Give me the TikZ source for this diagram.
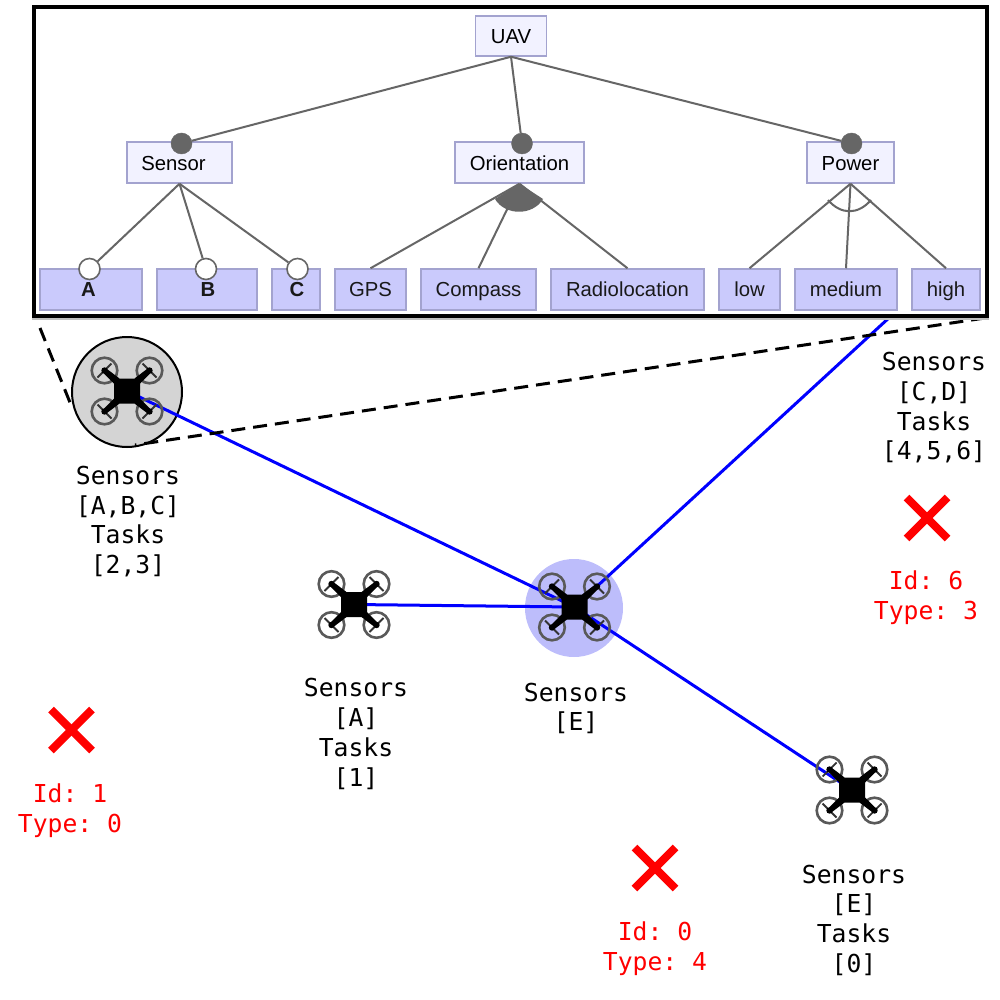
\documentclass[tikz,border=0pt]{standalone}
\usepackage{fontspec}
\setmainfont{Liberation Sans}
\newfontfamily\monofam{DejaVu Sans Mono}
\definecolor{fgrey}{HTML}{666666}
\definecolor{fline}{HTML}{A3A3CF}
\definecolor{fpale}{HTML}{F2F2FF}
\definecolor{fleaf}{HTML}{CACAFC}
\definecolor{halo}{HTML}{BDBDFB}
\tikzset{
  root/.style={draw=fline,line width=1.5pt,fill=fpale,inner sep=0pt,text height=18pt,text depth=2.5pt,font=\fontsize{20.3}{24}\selectfont,text=black},
  leaf/.style={draw=fline,line width=1.5pt,fill=fleaf,inner sep=0pt,minimum height=41pt,text height=17pt,text depth=3pt,font=\fontsize{20.3}{24}\selectfont,text=black!90},
  reqdot/.style={circle,fill=fgrey,draw=fgrey,inner sep=0pt,minimum size=21pt},
  optdot/.style={circle,fill=white,draw=fgrey,line width=1.6pt,inner sep=0pt,minimum size=21pt},
  edge/.style={draw=fgrey,line width=2pt},
  link/.style={draw=blue,line width=3pt},
  guide/.style={draw=black,line width=3pt,dash pattern=on 14pt off 8pt},
  info/.style={font=\monofam\frenchspacing\fontsize{24.7}{29.7}\selectfont,align=center,inner sep=0pt,text=black},
  redinfo/.style={info,text=red},
  cross/.style={draw=red,line width=8pt},
  dronepic/.pic={
    \foreach \sx/\sy in {-1/-1,1/-1,-1/1,1/1}{
      \draw[draw=black!65,line width=2.6pt] (22.5*\sx,20.5*\sy) circle[radius=12.8];
      \fill[black] (13*\sx,7.5*\sy) -- (24.5*\sx,19*\sy) -- (20*\sx,22*\sy) -- (7.5*\sx,12.5*\sy) -- cycle;
      \draw[black!80,line width=1.8pt] (22.5*\sx-7,20.5*\sy+7*\sx*\sy) -- (22.5*\sx+7,20.5*\sy-7*\sx*\sy);
      \fill[black] (22.5*\sx,20.5*\sy) circle[radius=3.2];
    }
    \fill[black,rounded corners=2pt] (-13,-12.5) rectangle (13,12.5);
  }
}
\begin{document}
\begin{tikzpicture}[x=1pt,y=-1pt]
\useasboundingbox (0,0) rectangle (1000,1000);
% swarm halos
\node[circle,draw=black,line width=2pt,fill=black!17,inner sep=0pt,minimum size=110pt] (halo1) at (127,392) {};
\node[circle,fill=halo,inner sep=0pt,minimum size=98pt] (halo2) at (574,608) {};
% anchors
\coordinate (d1) at (127,391);
\coordinate (d2) at (354,604.5);
\coordinate (d3) at (574.5,607);
\coordinate (d4) at (852,790);
\coordinate (fa) at (891,316);
\coordinate (ga) at (40,328);
\coordinate (gb) at (71,405);
\coordinate (gc) at (985,318);
\coordinate (gd) at (135,445);
% links
\draw[link] (d1) -- (d3);
\draw[link] (d2) -- (d3);
\draw[link] (d3) -- (d4);
\draw[link] (d3) -- (fa);
% zoom guides
\draw[guide] (ga) -- (gb);
\draw[guide] (gc) -- (gd);
% drones
\pic at (d1) {dronepic};
\pic at (d2) {dronepic};
\pic at (d3) {dronepic};
\pic at (d4) {dronepic};
% inset
\draw[black!25,line width=4pt,fill=white] (34,8.5) rectangle (987,317.5);
\draw[black,line width=4pt,fill=white] (34,7) rectangle (987,316);
\node[root,minimum width=71pt,minimum height=40pt] (uav) at (511,36) {UAV};
\node[root,minimum width=105pt,minimum height=41pt] (sensor) at (179.5,162.5) {Sensor\kern12pt};
\node[root,minimum width=129pt,minimum height=41pt] (orient) at (519.5,162.5) {Orientation};
\node[root,minimum width=87pt,minimum height=41pt] (power) at (850.5,162.5) {Power};
\node[leaf,minimum width=102pt] (a) at (91,289.5) {\kern-5pt\textbf{A}};
\node[leaf,minimum width=100pt] (b) at (207,289.5) {\kern2pt\textbf{B}};
\node[leaf,minimum width=48pt] (c) at (296,289.5) {\kern2pt\textbf{C}};
\node[leaf,minimum width=71pt] (gps) at (370.5,289.5) {GPS};
\node[leaf,minimum width=115pt] (compass) at (478.5,289.5) {Compass};
\node[leaf,minimum width=153pt] (radio) at (627.5,289.5) {Radiolocation};
\node[leaf,minimum width=61pt] (low) at (749.5,289.5) {low};
\node[leaf,minimum width=102pt] (medium) at (846,289.5) {medium};
\node[leaf,minimum width=68pt] (high) at (946,289.5) {high};
\node[reqdot] (sdot) at (181.5,143.5) {};
\node[reqdot] (odot) at (522,143.5) {};
\node[reqdot] (pdot) at (851.5,143.5) {};
\node[optdot] (adot) at (89.5,269) {};
\node[optdot] (bdot) at (206,269) {};
\node[optdot] (cdot) at (297.5,269) {};
\draw[edge] (uav.south) -- (sdot);
\draw[edge] (uav.south) -- (odot);
\draw[edge] (uav.south) -- (pdot);
\draw[edge] (sensor.south) -- (adot);
\draw[edge] (sensor.south) -- (bdot);
\draw[edge] (sensor.south) -- (cdot);
\draw[edge] (orient.south) -- (gps.north);
\draw[edge] (orient.south) -- (compass.north);
\draw[edge] (orient.south) -- (radio.north);
\draw[edge] (power.south) -- (low.north);
\draw[edge] (power.south) -- (medium.north);
\draw[edge] (power.south) -- (high.north);
\fill[fgrey] (orient.south) -- (495,199) .. controls (505,216) and (533,216) .. (543,199) -- cycle;
\draw[edge] (828,200) .. controls (841,215) and (858,215) .. (871,200);
% labels
\node[info] (l1) at (128,521.5) {Sensors\\{}[A,B,C]\\Tasks\\{}[2,3]};
\node[info] (l2) at (356,734) {Sensors\\{}[A]\\Tasks\\{}[1]};
\node[info] (l3) at (576,708.5) {Sensors\\{}[E]};
\node[info] (l4) at (854,920) {Sensors\\{}[E]\\Tasks\\{}[0]};
\node[info] (l5) at (934,408) {Sensors\\{}[C,D]\\Tasks\\{}[4,5,6]};
\node[redinfo] (r6) at (926,598) {Id: 6\\Type: 3};
\node[redinfo] (r1) at (70,810.5) {Id: 1\\Type: 0};
\node[redinfo] (r0) at (655,949) {Id: 0\\Type: 4};
% crosses
\foreach \cx/\cy in {927/518,71.5/730,655/868}{
  \draw[cross] (\cx-20.5,\cy-20.5) -- (\cx+20.5,\cy+20.5);
  \draw[cross] (\cx-20.5,\cy+20.5) -- (\cx+20.5,\cy-20.5);
}
\end{tikzpicture}
\end{document}
